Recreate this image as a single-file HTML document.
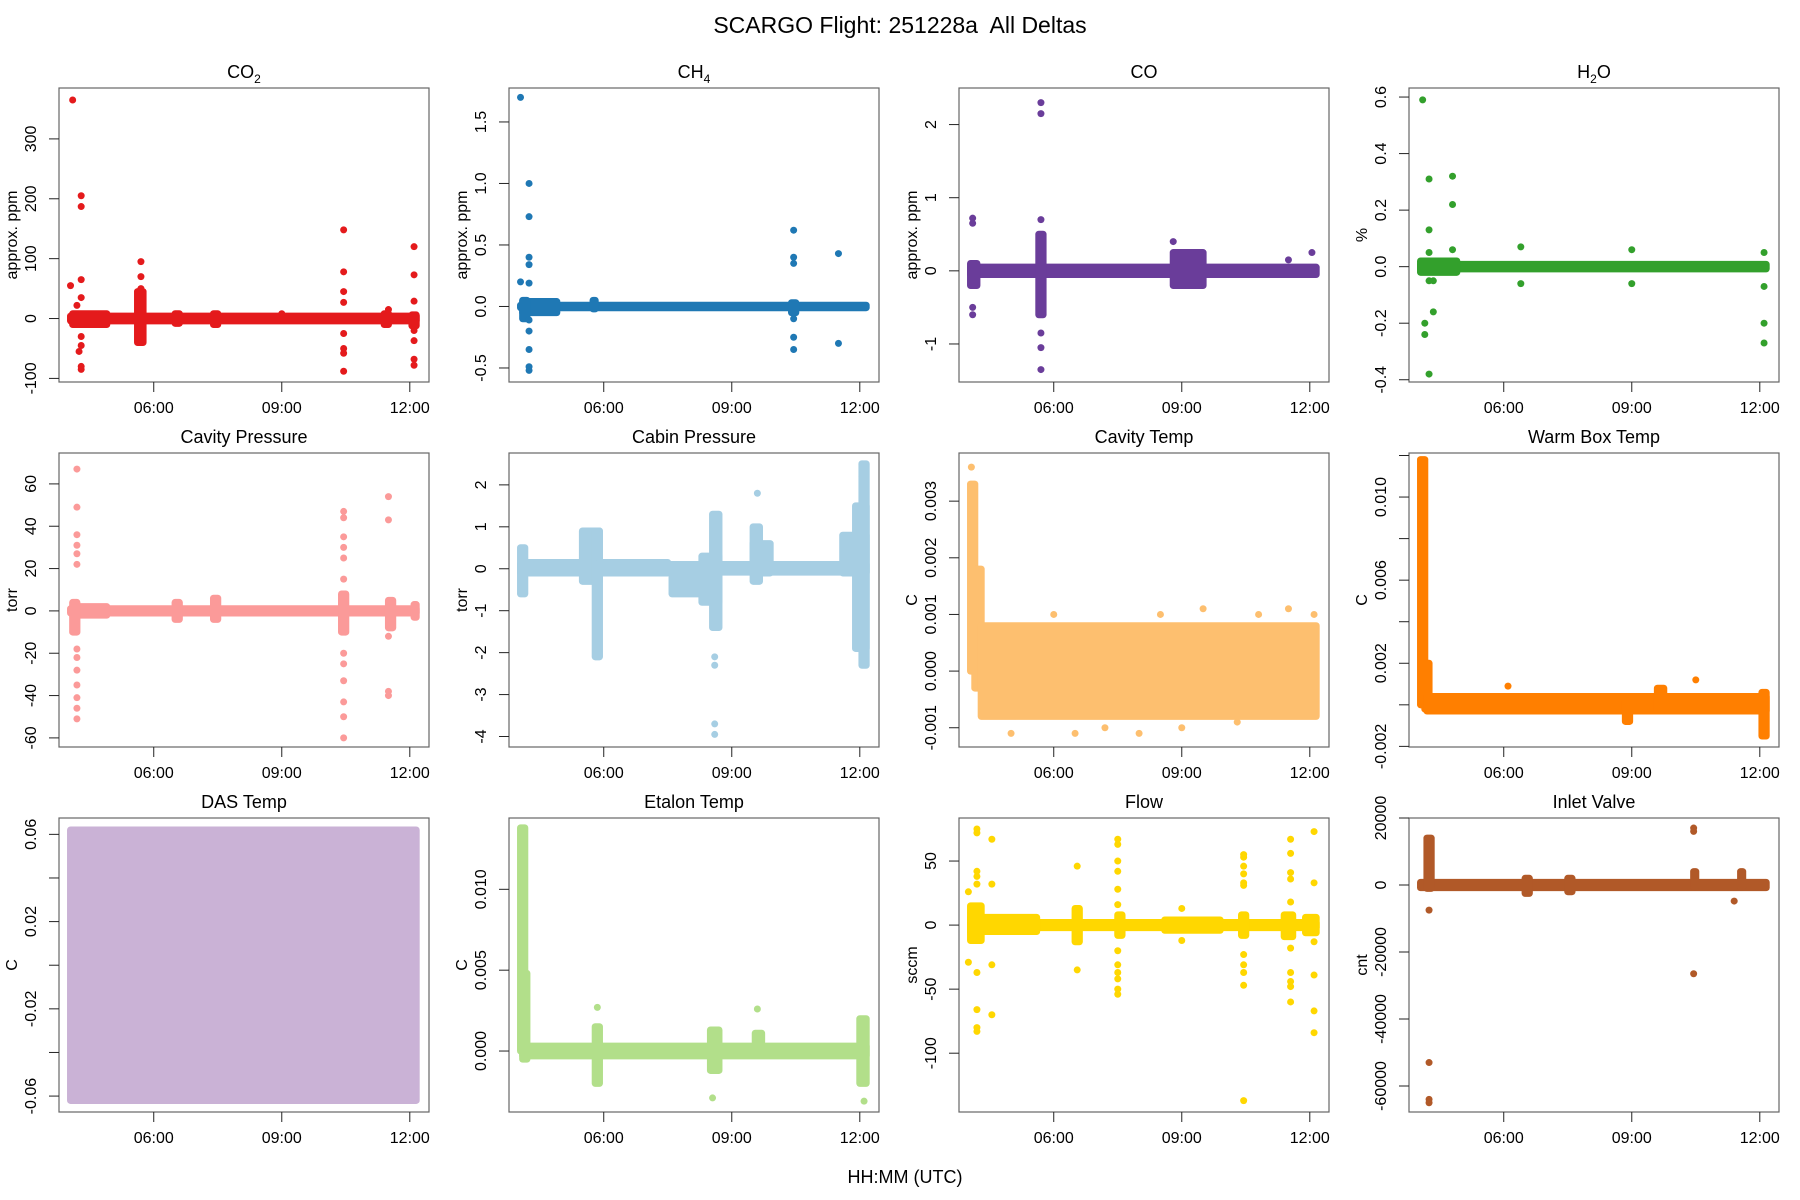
<!DOCTYPE html>
<html><head><meta charset="utf-8"><style>
html,body{margin:0;padding:0;background:#fff;}
svg{display:block;font-family:"Liberation Sans",Arial,sans-serif;}
</style></head><body>
<svg id="fig" width="1800" height="1200" viewBox="0 0 1800 1200" xmlns="http://www.w3.org/2000/svg">
<text x="900" y="33" font-size="23" text-anchor="middle" style="white-space:pre">SCARGO Flight: 251228a  All Deltas</text>
<text x="905" y="1183" font-size="18" text-anchor="middle">HH:MM (UTC)</text>
</svg>
<script>
// ---- data (hours UTC, values) ----
const xTickVals = [6, 9, 12];
const xTickLabels = ["06:00", "09:00", "12:00"];

const co2Bands = [[4.05,12.15,-4,4],[4.1,4.9,-10,8],[5.62,5.75,-40,45],[6.5,6.6,-8,8],[7.4,7.5,-10,8],[11.4,11.5,-10,8],[12.05,12.15,-12,6]];
const co2OutT = [4.1,4.3,4.3,4.3,4.3,4.3,4.3,4.25,4.05,4.2,4.3,4.3,5.7,5.7,5.7,10.45,10.45,10.45,10.45,10.45,10.45,10.45,10.45,11.5,12.1,12.1,12.1,12.1,12.1,12.1,12.1,9.0];
const co2OutV = [365,205,187,65,35,-80,-85,-55,55,22,-30,-45,95,70,50,148,78,45,27,-25,-50,-58,-88,15,120,73,29,-37,-68,-78,-20,8];

const ch4Bands = [[4.05,12.15,-0.01,0.01],[4.1,4.9,-0.05,0.04],[4.1,4.2,-0.1,0.05],[5.75,5.8,-0.02,0.05],[10.4,10.5,-0.05,0.03]];
const ch4OutT = [4.05,4.05,4.25,4.25,4.25,4.25,4.25,4.25,4.25,4.25,4.25,4.25,10.45,10.45,10.45,10.45,10.45,10.45,11.5,11.5];
const ch4OutV = [1.7,0.2,1.0,0.73,0.4,0.34,0.19,-0.11,-0.2,-0.35,-0.52,-0.49,0.62,0.4,0.35,-0.1,-0.25,-0.35,0.43,-0.3];

const coBands = [[4.05,12.15,-0.05,0.05],[4.05,4.2,-0.2,0.1],[5.65,5.75,-0.6,0.5],[8.8,9.5,-0.2,0.25]];
const coOutT = [4.1,4.1,4.1,4.1,5.7,5.7,5.7,5.7,5.7,5.7,8.8,12.05,11.5];
const coOutV = [0.72,0.65,-0.6,-0.5,2.3,2.15,0.7,-1.05,-1.35,-0.85,0.4,0.25,0.15];

const h2oBands = [[4.05,12.15,-0.008,0.008],[4.05,4.9,-0.02,0.02]];
const h2oOutT = [4.1,4.25,4.25,4.25,4.25,4.15,4.15,4.35,4.35,4.25,4.8,4.8,4.8,6.4,6.4,9.0,9.0,12.1,12.1,12.1,12.1];
const h2oOutV = [0.59,0.31,0.13,0.05,-0.05,-0.24,-0.2,-0.16,-0.05,-0.38,0.32,0.22,0.06,0.07,-0.06,0.06,-0.06,0.05,-0.07,-0.2,-0.27];

const cavPBands = [[4.05,12.15,-1,1],[4.1,4.9,-2,2],[4.1,4.2,-10,4],[6.5,6.6,-4,4],[7.4,7.5,-4,6],[10.4,10.5,-10,8],[11.5,11.6,-8,5],[12.1,12.15,-3,3]];
const cavPOutT = [4.2,4.2,4.2,4.2,4.2,4.2,4.2,4.2,4.2,4.2,4.2,4.2,4.2,10.45,10.45,10.45,10.45,10.45,10.45,10.45,10.45,10.45,10.45,10.45,10.45,11.5,11.5,11.5,11.5,11.5];
const cavPOutV = [67,49,36,31,27,22,-18,-22,-28,-35,-41,-46,-51,47,44,35,30,25,15,-20,-25,-33,-43,-50,-60,54,43,-38,-40,-12];

const cabPBands = [[4.05,4.15,-0.6,0.5],[4.05,12.15,-0.08,0.1],[4.2,5.5,-0.1,0.15],[5.5,5.9,-0.3,0.9],[5.8,5.9,-2.1,0.9],[5.9,7.5,-0.1,0.15],[7.6,8.5,-0.6,0.05],[8.3,8.7,-0.8,0.3],[8.55,8.7,-1.4,1.3],[9.5,9.9,-0.1,0.6],[9.5,9.65,-0.3,1.0],[10.0,11.6,-0.05,0.1],[11.6,12.15,-0.1,0.8],[11.9,12.15,-1.9,1.5],[12.05,12.15,-2.3,2.5]];
const cabPOutT = [8.6,8.6,8.6,8.6,9.6,12.05,12.05];
const cabPOutV = [-2.1,-2.3,-3.7,-3.95,1.8,2.5,2.2];

const cavTBands = [[4.05,4.15,0.0,0.0033],[4.15,4.3,-0.0003,0.0018],[4.3,12.15,-0.0008,0.0008]];
const cavTOutT = [4.07,9.5,11.5,12.1,6.5,8.0,5.0,7.2,9.0,10.3,6.0,8.5,10.8];
const cavTOutV = [0.0036,0.0011,0.0011,0.001,-0.0011,-0.0011,-0.0011,-0.001,-0.001,-0.0009,0.001,0.001,0.001];

const warmBands = [[4.05,4.15,0.0,0.0118],[4.15,4.25,-0.0002,0.002],[4.2,12.15,-0.0003,0.0004],[8.85,8.95,-0.0008,0.0002],[9.6,9.75,-0.0003,0.0008],[12.05,12.15,-0.0015,0.0006]];
const warmOutT = [10.5,6.1];
const warmOutV = [0.0012,0.0009];

const dasBands = [[4.05,12.15,-0.062,0.062]];
const dasOutT = [];
const dasOutV = [];

const etalonBands = [[4.1,12.15,-0.0003,0.0003],[4.05,4.15,0.0,0.0138],[4.1,4.2,-0.0005,0.0048],[5.8,5.9,-0.002,0.0015],[8.5,8.7,-0.0012,0.0013],[9.55,9.7,-0.0002,0.0011],[12.0,12.15,-0.002,0.002]];
const etalonOutT = [5.85,8.55,9.6,12.1];
const etalonOutV = [0.0027,-0.0029,0.0026,-0.0031];

const flowBands = [[4.05,12.15,-2,2],[4.05,5.6,-5,6],[4.05,4.3,-12,15],[6.5,6.6,-13,13],[7.5,7.6,-8,8],[8.6,9.9,-4,4],[10.4,10.5,-8,8],[11.4,11.6,-9,8],[11.9,12.15,-6,6]];
const flowOutT = [4.2,4.2,4.2,4.2,4.2,4.2,4.2,4.2,4.2,4.55,4.55,4.55,4.55,4.0,4.0,6.55,6.55,7.5,7.5,7.5,7.5,7.5,7.5,7.5,7.5,7.5,7.5,7.5,7.5,10.45,10.45,10.45,10.45,10.45,10.45,10.45,10.45,10.45,10.45,10.45,11.55,11.55,11.55,11.55,11.55,11.55,11.55,11.55,11.55,11.55,12.1,12.1,12.1,12.1,12.1,12.1,9.0,9.0];
const flowOutV = [75,72,42,38,32,-37,-66,-80,-83,67,32,-31,-70,26,-29,46,-35,67,63,50,42,28,16,-20,-31,-37,-42,-50,-54,55,53,46,40,33,31,-23,-31,-37,-47,-137,67,56,41,36,18,-18,-37,-44,-48,-60,73,33,-13,-39,-67,-84,13,-12];

const inletBands = [[4.05,12.15,-800,800],[4.2,4.3,-1000,14000],[6.5,6.6,-2500,2000],[7.5,7.6,-2000,2000],[10.45,10.5,-500,4000],[11.55,11.6,-500,4000]];
const inletOutT = [4.25,4.25,4.25,4.25,10.45,10.45,10.45,11.4];
const inletOutV = [-7500,-53000,-64000,-65000,17000,16000,-26500,-4800];

// ---- panel axis settings ----
const panels = [
 {name:"co2", title:["CO","2",""], ylab:"approx. ppm", col:"#E41A1C", dom:[-106,385], ticks:[-100,0,100,200,300], labs:["-100","0","100","200","300"], bands:co2Bands, ot:co2OutT, ov:co2OutV},
 {name:"ch4", title:["CH","4",""], ylab:"approx. ppm", col:"#1F78B4", dom:[-0.614,1.776], ticks:[-0.5,0,0.5,1,1.5], labs:["-0.5","0.0","0.5","1.0","1.5"], bands:ch4Bands, ot:ch4OutT, ov:ch4OutV},
 {name:"co", title:["CO","",""], ylab:"approx. ppm", col:"#6A3D9A", dom:[-1.52,2.5], ticks:[-1,0,1,2], labs:["-1","0","1","2"], bands:coBands, ot:coOutT, ov:coOutV},
 {name:"h2o", title:["H","2","O"], ylab:"%", col:"#33A02C", dom:[-0.408,0.632], ticks:[-0.4,-0.2,0,0.2,0.4,0.6], labs:["-0.4","-0.2","0.0","0.2","0.4","0.6"], bands:h2oBands, ot:h2oOutT, ov:h2oOutV},
 {name:"cavity-pressure", title:["Cavity Pressure","",""], ylab:"torr", col:"#FB9A99", dom:[-64.3,74.6], ticks:[-60,-40,-20,0,20,40,60], labs:["-60","-40","-20","0","20","40","60"], bands:cavPBands, ot:cavPOutT, ov:cavPOutV},
 {name:"cabin-pressure", title:["Cabin Pressure","",""], ylab:"torr", col:"#A6CEE3", dom:[-4.25,2.76], ticks:[-4,-3,-2,-1,0,1,2], labs:["-4","-3","-2","-1","0","1","2"], bands:cabPBands, ot:cabPOutT, ov:cabPOutV},
 {name:"cavity-temp", title:["Cavity Temp","",""], ylab:"C", col:"#FDBF6F", dom:[-0.00134,0.00385], ticks:[-0.001,0,0.001,0.002,0.003], labs:["-0.001","0.000","0.001","0.002","0.003"], bands:cavTBands, ot:cavTOutT, ov:cavTOutV},
 {name:"warm-box-temp", title:["Warm Box Temp","",""], ylab:"C", col:"#FF7F00", dom:[-0.00203,0.01212], ticks:[-0.002,0,0.002,0.004,0.006,0.008,0.010,0.012], labs:["-0.002","","0.002","","0.006","","0.010",""], bands:warmBands, ot:warmOutT, ov:warmOutV},
 {name:"das-temp", title:["DAS Temp","",""], ylab:"C", col:"#CAB2D6", dom:[-0.0673,0.0675], ticks:[-0.06,-0.04,-0.02,0,0.02,0.04,0.06], labs:["-0.06","","-0.02","","0.02","","0.06"], bands:dasBands, ot:dasOutT, ov:dasOutV},
 {name:"etalon-temp", title:["Etalon Temp","",""], ylab:"C", col:"#B2DF8A", dom:[-0.00377,0.01441], ticks:[0,0.005,0.010], labs:["0.000","0.005","0.010"], bands:etalonBands, ot:etalonOutT, ov:etalonOutV},
 {name:"flow", title:["Flow","",""], ylab:"sccm", col:"#FFD700", dom:[-145.9,83.6], ticks:[-100,-50,0,50], labs:["-100","-50","0","50"], bands:flowBands, ot:flowOutT, ov:flowOutV},
 {name:"inlet-valve", title:["Inlet Valve","",""], ylab:"cnt", col:"#B15928", dom:[-67760,20000], ticks:[-60000,-40000,-20000,0,20000], labs:["-60000","-40000","-20000","0","20000"], bands:inletBands, ot:inletOutT, ov:inletOutV}
];
const xDom = [3.78, 12.45];

const NS = "http://www.w3.org/2000/svg";
const svg = document.getElementById("fig");
function mk(tag, attrs, parent){ const e=document.createElementNS(NS,tag); for(const k in attrs) e.setAttribute(k,attrs[k]); (parent||svg).appendChild(e); return e; }

const W=370, H=294, R=3.5;
panels.forEach((p,i)=>{
  const col=i%4, row=Math.floor(i/4);
  const L=59+450*col, T=88+365*row;
  const xs=t=>L+(t-xDom[0])/(xDom[1]-xDom[0])*W;
  const ys=v=>T+H-(v-p.dom[0])/(p.dom[1]-p.dom[0])*H;
  const g=mk("g",{});
  
  
  const cid="clip"+i;
  const cp=mk("clipPath",{id:cid},g); mk("rect",{x:L,y:T,width:W,height:H},cp);
  const marks=mk("g",{"clip-path":"url(#"+cid+")",fill:p.col},g);
  
  
  p.bands.forEach(b=>{
    const x0=xs(b[0])-R, x1=xs(b[1])+R, y0=ys(b[3])-R, y1=ys(b[2])+R;
    const r=mk("rect",{x:x0,y:y0,width:x1-x0,height:y1-y0,rx:R},marks);
    
    
  });
  p.ot.forEach((t,k)=>{
    const c=mk("circle",{cx:xs(t),cy:ys(p.ov[k]),r:R},marks);
    
    
  });
  const box=mk("rect",{x:L,y:T,width:W,height:H,fill:"none",stroke:"#666","stroke-width":1.2},g);
  
  
  xTickVals.forEach((t,k)=>{
    mk("line",{x1:xs(t),x2:xs(t),y1:T+H,y2:T+H+10,stroke:"#222"},g);
    const tx=mk("text",{x:xs(t),y:T+H+31,"font-size":16,"text-anchor":"middle"},g);
    tx.textContent=xTickLabels[k];
    
    
  });
  p.ticks.forEach((v,k)=>{
    mk("line",{x1:L-10,x2:L,y1:ys(v),y2:ys(v),stroke:"#222"},g);
    if(p.labs[k]){
      const tx=mk("text",{x:0,y:0,"font-size":16,"text-anchor":"middle",transform:"translate("+(L-23)+","+ys(v)+") rotate(-90)"},g);
      tx.textContent=p.labs[k];
      
      
    }
  });
  const yl=mk("text",{x:0,y:0,"font-size":16,"text-anchor":"middle",transform:"translate("+(L-42)+","+(T+H/2)+") rotate(-90)"},g);
  yl.textContent=p.ylab;
  
  
  const tt=mk("text",{x:L+W/2,y:T-10,"font-size":18,"text-anchor":"middle"},g);
  
  
  tt.appendChild(document.createTextNode(p.title[0]));
  if(p.title[1]){ const s=mk("tspan",{"font-size":12,dy:5},tt); s.textContent=p.title[1]; }
  if(p.title[2]){ const s=mk("tspan",{dy:-5},tt); s.textContent=p.title[2]; }
});
</script>
</body></html>
